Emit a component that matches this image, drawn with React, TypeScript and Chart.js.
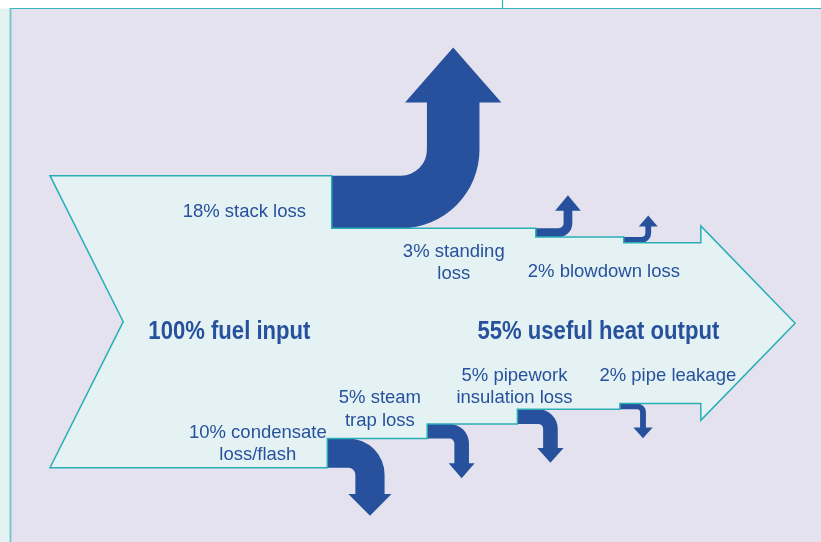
import { useEffect, useRef } from "react";
import { Chart, registerables } from "chart.js";

Chart.register(...registerables);

// ---------------- data ----------------
const inputLabel = "100% fuel input";
const outputLabel = "55% useful heat output";
const fuelInput = 100;
const usefulOutput = 55;
const topLossValues = [18, 3, 2];
const topLossLabels = [["18% stack loss"], ["3% standing", "loss"], ["2% blowdown loss"]];
const bottomLossValues = [10, 5, 5, 2];
const bottomLossLabels = [
  ["10% condensate", "loss/flash"],
  ["5% steam", "trap loss"],
  ["5% pipework", "insulation loss"],
  ["2% pipe leakage"],
];

// ---------------- layout (diagram units: 1 unit = 1% of the fuel-input band) ----------------
const X_MIN = 0;
const X_MAX = 281.16;
const Y_MIN = -25.45;
const Y_MAX = 160.17;
const tailX = 17.12;
const notchX = 42.2;
const headX = 240.0;
const tipX = 272.3;
const headBarb = 5.8;
const topStepX = [113.6, 183.5, 213.6];
const bottomStepX = [112.1, 146.3, 177.2, 212.3];
const topArrowLayout = [
  { xc: 155.2, ri: 8.9, rise: 25.1, headHalf: 16.5, headLen: 18.8 },
  { xc: 194.5, ri: 1.7, rise: 6.0, headHalf: 4.4, headLen: 5.3 },
  { xc: 222.0, ri: 1.4, rise: 3.6, headHalf: 3.25, headLen: 3.8 },
];
const bottomArrowLayout = [
  { xc: 126.7, ri: 2.4, drop: 9.0, headHalf: 7.4, headLen: 7.5 },
  { xc: 158.1, ri: 1.7, drop: 8.5, headHalf: 4.45, headLen: 5.1 },
  { xc: 188.5, ri: 1.7, drop: 8.3, headHalf: 4.5, headLen: 5.0 },
  { xc: 220.2, ri: 1.0, drop: 6.2, headHalf: 3.3, headLen: 3.7 },
];
const topLabelPos = [
  [83.67, 85.96],
  [155.4, 72.26],
  [206.8, 65.41],
];
const bottomLabelPos = [
  [88.3, 10.27],
  [130.1, 22.05],
  [176.2, 29.69],
  [228.7, 29.79],
];
const inputTitlePos = [50.8, 43.97];
const outputTitlePos = [163.5, 43.97];
const LINE_H = 7.64;

// ---------------- styles ----------------
const BLUE = "#27519c";
const TEAL = "#2aaeb6";
const LIGHT = "#e5f2f3";
const LAVENDER = "#e4e2ef";
const LABEL_FONT = '18.5px "Liberation Sans", Arial, Helvetica, sans-serif';
const TITLE_FONT = 'bold 26px "Liberation Sans", Arial, Helvetica, sans-serif';
const TITLE_CONDENSE = 0.85;

const sum = (a: number[]) => a.reduce((s, v) => s + v, 0);

const diagramPlugin = {
  id: "sankeyDiagram",
  beforeDraw(chart: any) {
    const ctx: CanvasRenderingContext2D = chart.ctx;
    const W = chart.width;
    const H = chart.height;
    ctx.save();
    ctx.fillStyle = "#ffffff";
    ctx.fillRect(0, 0, W, H);
    ctx.fillStyle = "#e5f2f2";
    ctx.fillRect(0, 8.5, 10, H);
    ctx.fillStyle = LAVENDER;
    ctx.fillRect(10, 8.5, W - 10, H);
    ctx.strokeStyle = "#35b4ba";
    ctx.lineWidth = 1.2;
    ctx.beginPath();
    ctx.moveTo(9.5, 8.5);
    ctx.lineTo(W, 8.5);
    ctx.moveTo(502.5, 0);
    ctx.lineTo(502.5, 8.5);
    ctx.stroke();
    ctx.strokeStyle = "#6cc5cc";
    ctx.lineWidth = 1.8;
    ctx.beginPath();
    ctx.moveTo(10.5, 8);
    ctx.lineTo(10.5, H);
    ctx.stroke();
    ctx.restore();
  },
  afterDraw(chart: any) {
    const ctx: CanvasRenderingContext2D = chart.ctx;
    const xs = chart.scales.x;
    const ys = chart.scales.y;
    const X = (v: number) => xs.getPixelForValue(v);
    const Y = (v: number) => ys.getPixelForValue(v);
    const unit = Math.abs(X(1) - X(0));

    // ---- main light arrow outline ----
    const pts: number[][] = [[tailX, fuelInput]];
    let y = fuelInput;
    topLossValues.forEach((v, i) => {
      pts.push([topStepX[i], y]);
      y -= v;
      pts.push([topStepX[i], y]);
    });
    const yb = sum(bottomLossValues);
    pts.push([headX, y]);
    pts.push([headX, y + headBarb]);
    pts.push([tipX, yb + usefulOutput / 2]);
    pts.push([headX, yb - headBarb]);
    pts.push([headX, yb]);
    let y2 = yb;
    for (let i = bottomLossValues.length - 1; i >= 0; i--) {
      pts.push([bottomStepX[i], y2]);
      y2 -= bottomLossValues[i];
      pts.push([bottomStepX[i], y2]);
    }
    pts.push([tailX, 0]);
    pts.push([notchX, fuelInput / 2]);

    const tracePoly = () => {
      ctx.beginPath();
      pts.forEach(([px, py], i) => (i === 0 ? ctx.moveTo(X(px), Y(py)) : ctx.lineTo(X(px), Y(py))));
      ctx.closePath();
    };

    ctx.save();
    tracePoly();
    ctx.fillStyle = LIGHT;
    ctx.fill();

    // ---- top loss arrows (turning up) ----
    ctx.fillStyle = BLUE;
    let yIn = fuelInput;
    topLossValues.forEach((t, i) => {
      const L = topArrowLayout[i];
      const xStart = topStepX[i];
      const yOut = yIn - t;
      const cx = L.xc - t / 2 - L.ri;
      const cy = yIn + L.ri;
      const hb = yIn + L.rise;
      ctx.beginPath();
      ctx.moveTo(X(xStart), Y(yIn));
      ctx.lineTo(X(cx), Y(yIn));
      ctx.arc(X(cx), Y(cy), L.ri * unit, Math.PI / 2, 0, true);
      ctx.lineTo(X(L.xc - t / 2), Y(hb));
      ctx.lineTo(X(L.xc - L.headHalf), Y(hb));
      ctx.lineTo(X(L.xc), Y(hb + L.headLen));
      ctx.lineTo(X(L.xc + L.headHalf), Y(hb));
      ctx.lineTo(X(L.xc + t / 2), Y(hb));
      ctx.lineTo(X(L.xc + t / 2), Y(cy));
      ctx.arc(X(cx), Y(cy), (L.ri + t) * unit, 0, Math.PI / 2, false);
      ctx.lineTo(X(xStart), Y(yOut));
      ctx.closePath();
      ctx.fill();
      yIn = yOut;
    });

    // ---- bottom loss arrows (turning down) ----
    let yLow = 0;
    bottomLossValues.forEach((t, i) => {
      const L = bottomArrowLayout[i];
      const xStart = bottomStepX[i];
      const yOut = yLow + t;
      const cx = L.xc - t / 2 - L.ri;
      const cy = yLow - L.ri;
      const hb = yLow - L.drop;
      ctx.beginPath();
      ctx.moveTo(X(xStart), Y(yOut));
      ctx.lineTo(X(cx), Y(yOut));
      ctx.arc(X(cx), Y(cy), (L.ri + t) * unit, -Math.PI / 2, 0, false);
      ctx.lineTo(X(L.xc + t / 2), Y(hb));
      ctx.lineTo(X(L.xc + L.headHalf), Y(hb));
      ctx.lineTo(X(L.xc), Y(hb - L.headLen));
      ctx.lineTo(X(L.xc - L.headHalf), Y(hb));
      ctx.lineTo(X(L.xc - t / 2), Y(hb));
      ctx.lineTo(X(L.xc - t / 2), Y(cy));
      ctx.arc(X(cx), Y(cy), L.ri * unit, 0, -Math.PI / 2, true);
      ctx.lineTo(X(xStart), Y(yLow));
      ctx.closePath();
      ctx.fill();
      yLow = yOut;
    });

    // ---- outline ----
    tracePoly();
    ctx.strokeStyle = TEAL;
    ctx.lineWidth = 1.5;
    ctx.lineJoin = "miter";
    ctx.stroke();

    // ---- labels ----
    ctx.fillStyle = BLUE;
    ctx.font = LABEL_FONT;
    ctx.textAlign = "center";
    ctx.textBaseline = "alphabetic";
    const drawLines = (lines: string[], pos: number[]) => {
      lines.forEach((s, k) => ctx.fillText(s, X(pos[0]), Y(pos[1] - k * LINE_H)));
    };
    topLossLabels.forEach((lines, i) => drawLines(lines, topLabelPos[i]));
    bottomLossLabels.forEach((lines, i) => drawLines(lines, bottomLabelPos[i]));

    // ---- titles ----
    ctx.font = TITLE_FONT;
    ctx.textAlign = "left";
    const drawTitle = (s: string, pos: number[]) => {
      ctx.save();
      ctx.translate(X(pos[0]), Y(pos[1]));
      ctx.scale(TITLE_CONDENSE, 1);
      ctx.fillText(s, 0, 0);
      ctx.restore();
    };
    drawTitle(inputLabel, inputTitlePos);
    drawTitle(outputLabel, outputTitlePos);
    ctx.restore();
  },
};

export default function App() {
  const ref = useRef<HTMLCanvasElement>(null);
  useEffect(() => {
    if (!ref.current) return;
    const chart = new Chart(ref.current, {
      type: "scatter",
      data: { datasets: [] },
      options: {
        responsive: false,
        animation: false,
        events: [],
        layout: { padding: 0 },
        scales: {
          x: { type: "linear", min: X_MIN, max: X_MAX, display: false },
          y: { type: "linear", min: Y_MIN, max: Y_MAX, display: false },
        },
        plugins: { legend: { display: false }, tooltip: { enabled: false } },
      },
      plugins: [diagramPlugin],
    } as any);
    return () => chart.destroy();
  }, []);
  return (
    <div style={{ position: "fixed", left: 0, top: 0, width: 821, height: 542, background: "#fff" }}>
      <canvas ref={ref} width={821} height={542} style={{ display: "block", width: 821, height: 542 }} />
    </div>
  );
}
